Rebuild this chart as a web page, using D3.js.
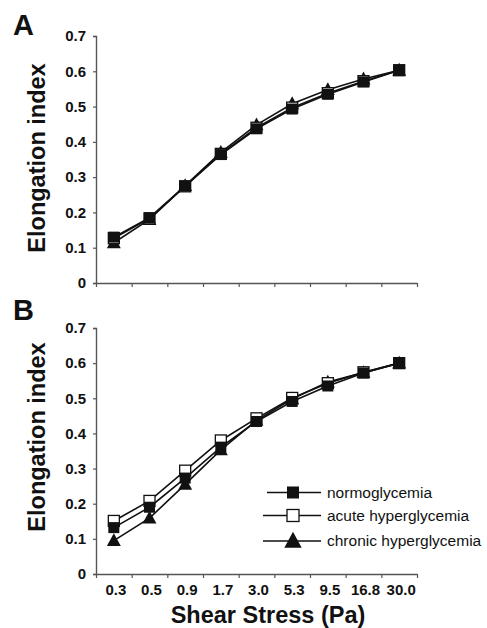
<!DOCTYPE html>
<html>
<head>
<meta charset="utf-8">
<script src="https://cdn.jsdelivr.net/npm/d3@7"></script>
<style>
  body { margin: 0; background: #fff; }
  text { font-family: "Liberation Sans", Arial, sans-serif; }
</style>
</head>
<body>
<div id="chart"></div>
<script>
// shear stress categories (Pa)
var stress = ["0.3", "0.5", "0.9", "1.7", "3.0", "5.3", "9.5", "16.8", "30.0"];
var yTicks = [0, 0.1, 0.2, 0.3, 0.4, 0.5, 0.6, 0.7];

// panel A values
var normoA   = [0.130, 0.185, 0.275, 0.364, 0.437, 0.493, 0.535, 0.570, 0.603];
var acuteA   = [0.127, 0.183, 0.274, 0.366, 0.440, 0.497, 0.538, 0.572, 0.603];
var chronicA = [0.114, 0.180, 0.276, 0.370, 0.448, 0.508, 0.548, 0.578, 0.603];

// panel B values
var normoB   = [0.132, 0.190, 0.273, 0.361, 0.434, 0.491, 0.535, 0.572, 0.600];
var acuteB   = [0.151, 0.208, 0.294, 0.380, 0.443, 0.501, 0.543, 0.574, 0.600];
var chronicB = [0.095, 0.159, 0.255, 0.353, 0.437, 0.498, 0.546, 0.573, 0.600];

var seriesNames = ["normoglycemia", "acute hyperglycemia", "chronic hyperglycemia"];

var svgWidth = 487;
var svgHeight = 628;

var svg = d3.select("#chart")
  .append("svg")
  .attr("width", svgWidth)
  .attr("height", svgHeight);

var left = 96, right = 417;

var x = d3.scaleBand()
  .domain(stress)
  .range([left, right])
  .padding(0);

// boundary ticks between categories
var xEdge = d3.scaleLinear()
  .domain([0, stress.length])
  .range([left, right]);

var axisColor = "#555";
var lineColor = "#111";

// marker drawing
function marker(g, kind, cx, cy, s) {
  if (kind === "tri") {
    g.append("path")
      .attr("d", `M${cx},${cy - s * 0.62} L${cx + s * 0.58},${cy + s * 0.45} L${cx - s * 0.58},${cy + s * 0.45} Z`)
      .attr("fill", lineColor);
  } else {
    g.append("rect")
      .attr("x", cx - s / 2)
      .attr("y", cy - s / 2)
      .attr("width", s)
      .attr("height", s)
      .attr("fill", kind === "open" ? "#fff" : lineColor)
      .attr("stroke", lineColor)
      .attr("stroke-width", kind === "open" ? 1.3 : 0);
  }
}

function drawPanel(top, bottom, letter, letterY, titleY, series, showX) {
  var y = d3.scaleLinear()
    .domain([0, 0.7])
    .range([bottom, top]);

  var g = svg.append("g");

  // panel letter
  svg.append("text")
    .attr("x", 13)
    .attr("y", letterY)
    .style("font-size", "29px")
    .style("font-weight", "bold")
    .attr("fill", "#111")
    .text(letter);

  // y axis
  var yAxis = g.append("g")
    .attr("transform", `translate(${left},0)`)
    .call(d3.axisLeft(y)
      .tickValues(yTicks)
      .tickSize(3)
      .tickPadding(7)
      .tickFormat(d => d === 0 ? "0" : d3.format(".1f")(d)));
  yAxis.select(".domain").attr("stroke", axisColor).attr("stroke-width", 1.4);
  yAxis.selectAll(".tick line").attr("stroke", axisColor).attr("stroke-width", 1.2);
  yAxis.selectAll(".tick text")
    .style("font-size", "15px")
    .style("font-weight", "bold")
    .attr("fill", "#111");

  // x axis with boundary ticks
  var xAxis = g.append("g")
    .attr("transform", `translate(0,${bottom})`)
    .call(d3.axisBottom(xEdge)
      .tickValues(d3.range(stress.length + 1))
      .tickSize(4)
      .tickSizeOuter(0)
      .tickFormat(""));
  xAxis.select(".domain").attr("stroke", axisColor).attr("stroke-width", 1.4);
  xAxis.selectAll(".tick line").attr("stroke", axisColor).attr("stroke-width", 1.2);

  if (showX) {
    var xLab = g.append("g")
      .attr("transform", `translate(0,${bottom})`)
      .call(d3.axisBottom(x).tickSize(0).tickPadding(10));
    xLab.select(".domain").remove();
    xLab.selectAll(".tick text")
      .attr("dx", "2")
      .style("font-size", "15px")
      .style("font-weight", "bold")
      .attr("fill", "#111");
  }

  // y axis title
  svg.append("text")
    .attr("transform", `translate(45,${titleY}) rotate(-90)`)
    .style("text-anchor", "middle")
    .style("font-size", "23.5px")
    .style("font-weight", "bold")
    .attr("fill", "#111")
    .text("Elongation index");

  var line = d3.line()
    .x((d, i) => x(stress[i]) + x.bandwidth() / 2)
    .y(d => y(d));

  series.forEach(function(s) {
    g.append("path")
      .datum(s.values)
      .attr("d", line)
      .attr("fill", "none")
      .attr("stroke", lineColor)
      .attr("stroke-width", 1.6);
  });
  series.forEach(function(s) {
    s.values.forEach(function(v, i) {
      marker(g, s.kind, x(stress[i]) + x.bandwidth() / 2, y(v), s.kind === "tri" ? 12 : 11);
    });
  });
  return y;
}

drawPanel(36, 283, "A", 35, 158, [
  { kind: "tri", values: chronicA },
  { kind: "open", values: acuteA },
  { kind: "fill", values: normoA }
], false);

drawPanel(328, 574, "B", 320, 437, [
  { kind: "tri", values: chronicB },
  { kind: "open", values: acuteB },
  { kind: "fill", values: normoB }
], true);

// x axis title
svg.append("text")
  .attr("x", 268)
  .attr("y", 623)
  .style("text-anchor", "middle")
  .style("font-size", "23.5px")
  .style("font-weight", "bold")
  .attr("fill", "#111")
  .text("Shear Stress (Pa)");

// legend
var legendKinds = ["fill", "open", "tri"];
var legendY = [492.5, 515.5, 541];
var legend = svg.append("g");
seriesNames.forEach(function(name, i) {
  legend.append("line")
    .attr("x1", i === 0 ? 267 : 263)
    .attr("x2", 321)
    .attr("y1", legendY[i])
    .attr("y2", legendY[i])
    .attr("stroke", lineColor)
    .attr("stroke-width", 1.4);
  marker(legend, legendKinds[i], 293, legendY[i], legendKinds[i] === "tri" ? 15 : 12);
  legend.append("text")
    .attr("x", 327)
    .attr("y", legendY[i] + 5)
    .style("font-size", "15.5px")
    .attr("fill", "#111")
    .text(name);
});
</script>
</body>
</html>
